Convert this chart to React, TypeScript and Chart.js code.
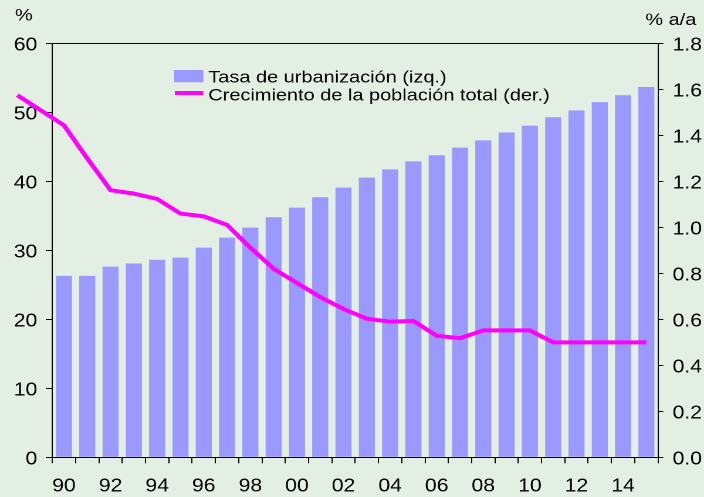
import React, { useEffect, useRef } from 'react';
import { Chart, registerables } from 'chart.js';

Chart.register(...registerables);

// ---- Data ----
const barYears = [1990, 1991, 1992, 1993, 1994, 1995, 1996, 1997, 1998, 1999, 2000, 2001, 2002, 2003, 2004, 2005, 2006, 2007, 2008, 2009, 2010, 2011, 2012, 2013, 2014, 2015];
const urbanRate = [26.3, 26.3, 27.65, 28.1, 28.65, 28.95, 30.4, 31.85, 33.3, 34.8, 36.2, 37.7, 39.1, 40.55, 41.75, 42.9, 43.8, 44.9, 45.95, 47.1, 48.1, 49.3, 50.3, 51.5, 52.5, 53.7];
const lineYears = [1988, 1990, 1991, 1992, 1993, 1994, 1995, 1996, 1997, 1998, 1999, 2000, 2001, 2002, 2003, 2004, 2005, 2006, 2007, 2008, 2009, 2010, 2011, 2012, 2013, 2014, 2015];
const popGrowth = [1.575, 1.444, 1.3, 1.162, 1.147, 1.124, 1.06, 1.048, 1.011, 0.912, 0.82, 0.758, 0.697, 0.645, 0.603, 0.59, 0.593, 0.529, 0.518, 0.552, 0.552, 0.552, 0.5, 0.5, 0.5, 0.5, 0.5];
const tickYears = [1990, 1992, 1994, 1996, 1998, 2000, 2002, 2004, 2006, 2008, 2010, 2012, 2014];
const tickLabels = ['90', '92', '94', '96', '98', '00', '02', '04', '06', '08', '10', '12', '14'];
const seriesLabels = ['Tasa de urbanización (izq.)', 'Crecimiento de la población total (der.)'];
const leftTitle = '%';
const rightTitle = '% a/a';

const FONT = "'Liberation Sans', Arial, sans-serif";
const BG = '#E4EFE4';
const BAR_COLOR = '#9999FF';
const LINE_COLOR = '#FF00FF';
const X_MIN = 1989.5;
const X_MAX = 2015.5;

const overlay = {
  id: 'overlay',
  afterDraw(chart: any) {
    const ctx = chart.ctx;
    ctx.save();
    ctx.fillStyle = '#000';
    ctx.textAlign = 'left';
    ctx.textBaseline = 'alphabetic';
    ctx.font = `17px ${FONT}`;
    ctx.fillText(leftTitle, 12.8, 20.5);
    ctx.fillText(rightTitle, 550, 25);

    // legend
    const ds = chart.data.datasets;
    ctx.fillStyle = ds[1].backgroundColor;
    ctx.fillRect(148.3, 70, 25, 12.3);
    ctx.strokeStyle = ds[0].borderColor;
    ctx.lineWidth = 4;
    ctx.beginPath();
    ctx.moveTo(149, 93);
    ctx.lineTo(173.3, 93);
    ctx.stroke();
    ctx.fillStyle = '#000';
    ctx.font = `17px ${FONT}`;
    ctx.fillText(ds[1].label, 177.5, 82.3);
    ctx.fillText(ds[0].label, 177.5, 100.7);
    ctx.restore();
  },
};

export default function App() {
  const ref = useRef<HTMLCanvasElement>(null);

  useEffect(() => {
    const tickFont = { family: FONT, size: 18 };
    const chart = new Chart(ref.current as HTMLCanvasElement, {
      type: 'bar',
      data: {
        datasets: [
          {
            type: 'line',
            label: seriesLabels[1],
            data: lineYears.map((x, i) => ({ x, y: popGrowth[i] })),
            borderColor: LINE_COLOR,
            backgroundColor: LINE_COLOR,
            borderWidth: 4,
            pointRadius: 0,
            tension: 0,
            fill: false,
            clip: false,
            yAxisID: 'y1',
            xAxisID: 'x',
            order: 1,
          } as any,
          {
            type: 'bar',
            label: seriesLabels[0],
            data: barYears.map((x, i) => ({ x, y: urbanRate[i] })),
            backgroundColor: BAR_COLOR,
            borderWidth: 0,
            barPercentage: 0.69,
            categoryPercentage: 2,
            yAxisID: 'y',
            xAxisID: 'x',
            order: 2,
          } as any,
        ],
      },
      options: {
        animation: false,
        responsive: true,
        maintainAspectRatio: false,
        devicePixelRatio: 2,
        layout: { padding: { top: 43.5, left: 0, right: 0, bottom: 0 } },
        plugins: { legend: { display: false }, tooltip: { enabled: false } },
        scales: {
          x: {
            type: 'linear',
            position: 'bottom',
            offset: false,
            bounds: 'data',
            afterDataLimits: (s: any) => {
              s.min = X_MIN;
              s.max = X_MAX;
            },
            afterBuildTicks: (s: any) => {
              const t: any[] = [];
              for (let v = X_MIN; v <= X_MAX + 1e-9; v += 0.5) t.push({ value: v });
              s.ticks = t;
              s.min = X_MIN;
              s.max = X_MAX;
            },
            afterFit: (s: any) => {
              s.height = 39.7;
            },
            ticks: {
              autoSkip: false,
              maxRotation: 0,
              minRotation: 0,
              padding: 12.6,
              color: '#000',
              font: tickFont,
              callback: (v: any) => {
                const i = tickYears.indexOf(Number(v));
                return i >= 0 ? tickLabels[i] : '';
              },
            },
            grid: {
              offset: false,
              drawOnChartArea: false,
              drawTicks: true,
              tickLength: 6,
              tickWidth: 1,
              tickColor: (c: any) => (c.tick && !Number.isInteger(c.tick.value) ? '#000' : 'rgba(0,0,0,0)'),
            },
            border: { display: true, color: '#000', width: 1 },
          },
          y: {
            type: 'linear',
            position: 'left',
            min: 0,
            max: 60,
            afterFit: (s: any) => {
              s.width = 44.6;
            },
            ticks: { stepSize: 10, padding: 7.3, labelOffset: 2, color: '#000', font: tickFont },
            grid: {
              drawOnChartArea: true,
              drawTicks: true,
              tickLength: 5.5,
              color: (c: any) => (c.tick && c.tick.value === 60 ? '#000' : 'rgba(0,0,0,0)'),
              tickColor: '#000',
              lineWidth: 1,
            },
            border: { display: true, color: '#000', width: 1 },
          },
          y1: {
            type: 'linear',
            position: 'right',
            min: 0,
            max: 1.8,
            afterFit: (s: any) => {
              s.width = 39.2;
            },
            ticks: {
              stepSize: 0.2,
              padding: 8,
              labelOffset: 2,
              color: '#000',
              font: tickFont,
              callback: (v: any) => Number(v).toFixed(1),
            },
            grid: {
              drawOnChartArea: false,
              drawTicks: true,
              tickLength: 4.5,
              tickColor: '#000',
            },
            border: { display: true, color: '#000', width: 1 },
          },
        },
      } as any,
      plugins: [overlay],
    });
    return () => chart.destroy();
  }, []);

  return (
    <div
      style={{
        position: 'fixed',
        left: 0,
        top: 0,
        width: 704,
        height: 497,
        background: BG,
        overflow: 'hidden',
      }}
    >
      <div
        style={{
          position: 'absolute',
          left: 0,
          top: 0,
          width: 600,
          height: 497,
          transform: `scaleX(${704 / 600})`,
          transformOrigin: '0 0',
        }}
      >
        <canvas ref={ref} />
      </div>
    </div>
  );
}
